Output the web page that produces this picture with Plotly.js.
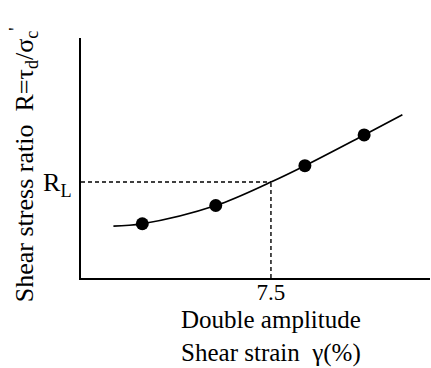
<!DOCTYPE html>
<html>
<head>
<meta charset="utf-8">
<script src="https://cdn.plot.ly/plotly-3.0.1.min.js"></script>
<style>
  html, body { margin: 0; padding: 0; background: #fff; }
  #chart { width: 431px; height: 368px; }
</style>
</head>
<body>
<div id="chart"></div>
<script>
// Measured test results: double amplitude shear strain (%) vs. shear stress ratio
const testStrain = [2.42, 5.32, 8.84, 11.18];
const testRatio  = [0.113, 0.151, 0.234, 0.298];

// Fitted curve through the test points
const curveStrain = [1.28, 2.42, 5.32, 7.5, 8.84, 11.18, 12.69];
const curveRatio  = [0.108, 0.113, 0.151, 0.20, 0.234, 0.298, 0.34];

// Liquefaction resistance read at the reference strain
const refStrain = 7.5;
const RL = 0.20;

const xTickVals = [refStrain];
const xTickText = ['7.5'];
const yTickVals = [RL];
const yTickText = ['R<sub>L</sub>'];

const serif = "'Liberation Serif', 'Times New Roman', Times, serif";

const traces = [
  {
    x: [0, refStrain], y: [RL, RL],
    mode: 'lines', line: { color: '#000', width: 1.4, dash: '4px,3px' },
    hoverinfo: 'skip', showlegend: false
  },
  {
    x: [refStrain, refStrain], y: [0, RL],
    mode: 'lines', line: { color: '#000', width: 1.4, dash: '4px,3px' },
    hoverinfo: 'skip', showlegend: false
  },
  {
    x: curveStrain, y: curveRatio,
    mode: 'lines', line: { color: '#000', width: 1.7, shape: 'spline', smoothing: 1 },
    showlegend: false
  },
  {
    x: testStrain, y: testRatio,
    mode: 'markers', marker: { color: '#000', size: 13 },
    showlegend: false
  }
];

const layout = {
  width: 431, height: 368,
  margin: { l: 81, r: 1, t: 38, b: 89.5 },
  paper_bgcolor: '#fff', plot_bgcolor: '#fff',
  font: { family: serif, color: '#000' },
  xaxis: {
    range: [0, 13.78], showgrid: false, zeroline: false,
    showline: true, linecolor: '#000', linewidth: 2.3,
    tickvals: xTickVals, ticktext: xTickText, ticks: '',
    ticklabelstandoff: -8,
    tickfont: { family: serif, size: 23, color: '#000' }
  },
  yaxis: {
    range: [0, 0.5], showgrid: false, zeroline: false,
    showline: true, linecolor: '#000', linewidth: 2.3,
    tickvals: yTickVals, ticktext: yTickText, ticks: '',
    ticklabelstandoff: 2,
    tickfont: { family: serif, size: 26, color: '#000' }
  },
  annotations: [
    {
      xref: 'paper', yref: 'paper', x: 0.545, y: 0, yshift: -58,
      xanchor: 'center', yanchor: 'middle', showarrow: false,
      text: 'Double amplitude<br>Shear strain  γ(%)',
      font: { family: serif, size: 25, color: '#000' }
    },
    {
      xref: 'paper', yref: 'paper', x: 0, xshift: -57, y: 0.47,
      xanchor: 'center', yanchor: 'middle', showarrow: false, textangle: -90,
      text: 'Shear stress ratio  R=τ<sub>d</sub>/σ<sub>c</sub><sup>\'</sup>',
      font: { family: serif, size: 26, color: '#000' }
    }
  ]
};

Plotly.newPlot('chart', traces, layout, { staticPlot: true, displayModeBar: false });
</script>
</body>
</html>
